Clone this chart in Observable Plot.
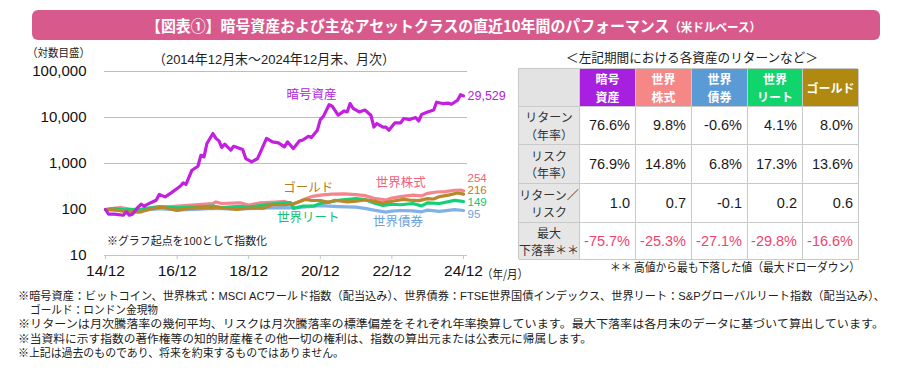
<!DOCTYPE html>
<html><head><meta charset="utf-8">
<script src="https://cdn.jsdelivr.net/npm/d3@7"></script>
<script src="https://cdn.jsdelivr.net/npm/@observablehq/plot@0.6"></script>
<style>
body{margin:0;background:#fff;}
#wrap{position:relative;width:900px;height:370px;overflow:hidden;font-family:"Liberation Sans","Noto Sans CJK JP",sans-serif;color:#222;}
.t{position:absolute;white-space:nowrap;transform-origin:left center;}
.cell{position:absolute;box-sizing:border-box;display:flex;align-items:center;border-right:1px solid #c9c9c9;border-bottom:1px solid #c9c9c9;}
</style></head><body><div id="wrap"></div>
<script>
// ---------- data ----------
const seriesNames = ["暗号資産","世界株式","世界債券","世界リート","ゴールド"];
const crypto = [["2014-12",100],["2015-01",79],["2015-03",79],["2015-06",75],["2015-07",89],["2015-08",75],["2015-09",79],["2015-11",114],["2015-12",130],["2016-01",118],["2016-03",139],["2016-05",159],["2016-06",212],["2016-08",188],["2016-10",230],["2016-12",286],["2017-01",320],["2017-02",379],["2017-03",350],["2017-05",714],["2017-07",873],["2017-08",1510],["2017-09",1390],["2017-10",2720],["2017-12",4480],["2018-01",3520],["2018-02",3100],["2018-03",2230],["2018-04",2630],["2018-06",1950],["2018-07",2360],["2018-10",2010],["2018-11",1280],["2019-01",1080],["2019-03",1280],["2019-04",1790],["2019-06",3520],["2019-08",2960],["2019-10",2800],["2019-12",2300],["2020-01",2960],["2020-03",2110],["2020-05",3100],["2020-06",3200],["2020-08",3900],["2020-09",3660],["2020-11",5300],["2020-12",9000],["2021-01",10600],["2021-03",19000],["2021-04",17600],["2021-06",11200],["2021-08",13900],["2021-09",13200],["2021-10",20100],["2021-11",15700],["2022-01",13200],["2022-03",14500],["2022-05",11200],["2022-06",6200],["2022-07",7400],["2022-09",6200],["2022-10",6200],["2022-11",5300],["2023-01",7650],["2023-03",7650],["2023-04",9500],["2023-06",9000],["2023-08",10000],["2023-09",8400],["2023-10",11700],["2023-12",13200],["2024-02",14500],["2024-03",21500],["2024-05",20100],["2024-07",20500],["2024-08",19400],["2024-10",23700],["2024-11",31300],["2024-12",29529]];
const equity = [["2014-12",100],["2015-05",110],["2015-09",100],["2016-01",98],["2016-06",110],["2016-12",118],["2017-06",126],["2017-12",135],["2018-01",146],["2018-03",135],["2018-09",140],["2018-12",125],["2019-04",139],["2019-09",145],["2019-12",150],["2020-03",130],["2020-06",160],["2020-09",190],["2020-12",205],["2021-04",215],["2021-08",218],["2021-12",210],["2022-03",200],["2022-06",175],["2022-09",165],["2022-10",160],["2022-12",178],["2023-03",190],["2023-07",205],["2023-10",198],["2023-12",225],["2024-03",240],["2024-06",245],["2024-09",262],["2024-11",265],["2024-12",254]];
const bonds = [["2014-12",100],["2015-06",96],["2015-12",96],["2016-06",104],["2016-12",98],["2017-06",101],["2017-12",105],["2018-06",103],["2018-12",104],["2019-06",109],["2019-12",110],["2020-03",109],["2020-06",113],["2020-12",121],["2021-06",116],["2021-12",113],["2022-03",106],["2022-06",97],["2022-10",88],["2022-12",92],["2023-03",95],["2023-07",93],["2023-10",89],["2023-12",97],["2024-04",91],["2024-09",99],["2024-12",95]];
const reit = [["2014-12",100],["2015-03",106],["2015-06",98],["2015-12",102],["2016-06",115],["2016-12",108],["2017-06",113],["2017-12",118],["2018-03",110],["2018-09",117],["2018-12",112],["2019-06",128],["2019-12",140],["2020-02",142],["2020-03",106],["2020-06",118],["2020-10",120],["2020-12",135],["2021-06",158],["2021-12",172],["2022-03",165],["2022-06",138],["2022-09",122],["2022-12",130],["2023-03",127],["2023-07",135],["2023-10",120],["2023-12",140],["2024-04",135],["2024-09",158],["2024-11",152],["2024-12",149]];
const gold = [["2014-12",100],["2015-03",98],["2015-07",90],["2015-11",88],["2015-12",89],["2016-03",103],["2016-07",113],["2016-12",96],["2017-04",106],["2017-08",110],["2017-12",108],["2018-01",112],["2018-08",100],["2018-12",107],["2019-05",107],["2019-08",127],["2019-12",127],["2020-03",133],["2020-07",165],["2020-09",157],["2020-12",157],["2021-03",143],["2021-05",159],["2021-09",146],["2021-12",151],["2022-03",162],["2022-06",152],["2022-09",138],["2022-12",151],["2023-04",166],["2023-06",160],["2023-09",156],["2023-12",172],["2024-02",169],["2024-04",191],["2024-07",205],["2024-10",228],["2024-12",216]];
const xTickLabels = ["2014-12","2016-12","2018-12","2020-12","2022-12","2024-12"];
const yTickValues = [10,100,1000,10000,100000];

const headerLabels = [["暗号","資産"],["世界","株式"],["世界","債券"],["世界","リート"],["ゴールド"]];
const rowLabels = [["リターン","（年率）"],["リスク","（年率）"],["リターン／","リスク"],["最大","下落率＊＊"]];
const returnsPct = [76.6, 9.8, -0.6, 4.1, 8.0];
const riskPct = [76.9, 14.8, 6.8, 17.3, 13.6];
const returnRisk = [1.0, 0.7, -0.1, 0.2, 0.6];
const maxDrawdownPct = [-75.7, -25.3, -27.1, -29.8, -16.6];

// ---------- styles ----------
const lineColors = ["#c21fe0","#f4848d","#80b1e7","#12cf7a","#b8882a"];
const labelColors = ["#b520dc","#f2607a","#6c9fdc","#14c273","#b0801e"];
const headColors = ["#a720e0","#f58787","#5b9bd5","#12d46c","#b08a10"];

const parse = d3.utcParse("%Y-%m");
const all = [crypto, equity, bonds, reit, gold];
const rows = [];
all.forEach((s, i) => s.forEach(([d, v]) => rows.push({name: seriesNames[i], date: parse(d), value: v})));

const wrap = document.getElementById("wrap");
const fits = [];
function txt(s, x, yc, fs, o = {}) {
  const e = document.createElement("div");
  e.className = "t";
  e.textContent = s;
  e.style.fontSize = fs + "px";
  e.style.lineHeight = fs + "px";
  e.style.top = (yc - fs / 2) + "px";
  e.style.left = x + "px";
  if (o.color) e.style.color = o.color;
  if (o.weight) e.style.fontWeight = o.weight;
  if (o.family) e.style.fontFamily = o.family;
  wrap.appendChild(e);
  fits.push({e, x, w: o.w, anchor: o.anchor || "start"});
  return e;
}
const jp = '"Noto Sans CJK JP",sans-serif';

// title bar
const bar = document.createElement("div");
Object.assign(bar.style, {position:"absolute", left:"32px", top:"10px", width:"848px", height:"30px", background:"#d85a8c", borderRadius:"6px"});
wrap.appendChild(bar);
const title = document.createElement("div");
title.className = "t";
title.innerHTML = '【図表①】暗号資産および主なアセットクラスの直近10年間のパフォーマンス<span style="font-size:12px">（米ドルベース）</span>';
Object.assign(title.style, {fontFamily: jp, fontWeight: "bold", color: "#fff", fontSize: "15.5px", lineHeight: "16px", top: "17px", left: "146px"});
wrap.appendChild(title);
fits.push({e: title, x: 146, w: 615, anchor: "start"});

// chart texts
txt("（対数目盛）", 27, 53, 11.5, {family: jp, w: 63});
txt("（2014年12月末～2024年12月末、月次）", 153, 60, 13.5, {w: 242});
txt("※グラフ起点を100として指数化", 107, 242, 11.5, {w: 160});
txt("（年/月）", 482, 274, 12, {family: jp, w: 46});

// ---------- Plot chart ----------
const W = 520, H = 230, top0 = 60;
const labelSpots = [
  {name:"暗号資産", date: parse("2020-09"), value: 30500},
  {name:"世界株式", date: parse("2023-03"), value: 373},
  {name:"世界債券", date: parse("2023-02"), value: 53},
  {name:"世界リート", date: parse("2020-08"), value: 64.7},
  {name:"ゴールド", date: parse("2020-08"), value: 290}
];
const endDy = [0, -12.2, 4.2, 1.2, -3.4];
const drawOrder = [1, 2, 3, 4, 0];
const chart = Plot.plot({
  width: W, height: H,
  marginLeft: 105, marginRight: 57, marginTop: 11, marginBottom: 35,
  style: {fontFamily: '"Liberation Sans","Noto Sans CJK JP",sans-serif', color: "#222", background: "transparent"},
  x: {type: "utc", domain: [parse("2014-12"), parse("2024-12")], axis: null, label: null},
  y: {type: "log", domain: [10, 100000], axis: null, label: null},
  marks: [
    Plot.ruleY(yTickValues.slice(2), {stroke: "#bdbdbd", strokeWidth: 1.2, insetLeft: -1, insetRight: -4}),
    Plot.ruleY([10], {stroke: "#c4c4c4", strokeWidth: 1.2, insetLeft: -1, insetRight: -4}),
    Plot.axisY({ticks: yTickValues, tickFormat: d3.format(","), tickSize: 0, tickPadding: 19, fontSize: 15, fill: "#111", label: null}),
    Plot.axisX({ticks: xTickLabels.map(parse), tickFormat: d3.utcFormat("%y/%m"), tickSize: 4, tickPadding: 5, fontSize: 15.5, fill: "#111", stroke: "#c4c4c4", label: null}),
    ...drawOrder.map(i => Plot.line(rows.filter(r => r.name === seriesNames[i]), {x: "date", y: "value", stroke: lineColors[i], strokeWidth: 3.2, strokeLinejoin: "round", strokeLinecap: "round"})),
    ...labelSpots.map(l => Plot.text([l], {x: "date", y: "value", text: "name", fill: labelColors[seriesNames.indexOf(l.name)], fontSize: 12.5, fontFamily: jp})),
    ...seriesNames.map((n, i) => {
      const last = all[i][all[i].length - 1];
      return Plot.text([{date: parse(last[0]), value: last[1]}], {x: "date", y: "value", text: d => d3.format(",")(d.value), textAnchor: "start", dx: 4, dy: endDy[i], fill: labelColors[i], fontSize: i === 0 ? 12.5 : 11.5});
    })
  ]
});
chart.style.position = "absolute";
chart.style.left = "0px";
chart.style.top = top0 + "px";
wrap.appendChild(chart);

// ---------- table ----------
txt("＜左記期間における各資産のリターンなど＞", 566, 57, 12.6, {family: jp, w: 252});
const colX = [518, 579, 635, 691, 747, 802, 858];
const rowY = [68, 106, 144, 183, 222, 259];
const tbl = document.createElement("div");
Object.assign(tbl.style, {position: "absolute", left: colX[0] + "px", top: rowY[0] + "px", width: (colX[6] - colX[0]) + "px", height: (rowY[5] - rowY[0]) + "px", border: "1px solid #c9c9c9", boxSizing: "border-box"});
wrap.appendChild(tbl);
function cell(ci, ri, bg, html, o = {}) {
  const c = document.createElement("div");
  c.className = "cell";
  Object.assign(c.style, {left: (colX[ci] - colX[0]) + "px", top: (rowY[ri] - rowY[0]) + "px", width: (colX[ci + 1] - colX[ci]) + "px", height: (rowY[ri + 1] - rowY[ri]) + "px", background: bg, justifyContent: o.justify || "center", textAlign: o.align || "center", padding: o.pad || "0", color: o.color || "#222", fontSize: (o.fs || 13) + "px", lineHeight: (o.lh || 1.25), fontWeight: o.weight || "normal", fontFamily: o.family || "inherit"});
  c.innerHTML = html;
  tbl.appendChild(c);
}
cell(0, 0, "#e3e3e3", "");
headerLabels.forEach((h, i) => cell(i + 1, 0, headColors[i], h.join("<br>"), {color: "#fff", weight: "bold", fs: 12, family: jp, lh: 1.45}));
rowLabels.forEach((r, i) => cell(0, i + 1, "#e6e6e6", r.join("<br>"), {fs: 12, family: jp, lh: 1.45, color: "#333"}));
const valueRows = [returnsPct.map(v => v.toFixed(1) + "%"), riskPct.map(v => v.toFixed(1) + "%"), returnRisk.map(v => v.toFixed(1)), maxDrawdownPct.map(v => v.toFixed(1) + "%")];
valueRows.forEach((vals, ri) => vals.forEach((v, ci) => cell(ci + 1, ri + 1, "#fff", v, {justify: "flex-end", pad: "0 5px 0 0", fs: 14.5, color: ri === 3 ? "#f0436c" : "#1a1a1a"})));
txt("＊＊ 高値から最も下落した値（最大ドローダウン）", 610, 267, 12, {family: jp, w: 250});

// ---------- footnotes ----------
const notes = [
  ["※暗号資産：ビットコイン、世界株式：MSCI ACワールド指数（配当込み）、世界債券：FTSE世界国債インデックス、世界リート：S&Pグローバルリート指数（配当込み）、", 18, 297, 867],
  ["ゴールド：ロンドン金現物", 30, 311, 128],
  ["※リターンは月次騰落率の幾何平均、リスクは月次騰落率の標準偏差をそれぞれ年率換算しています。最大下落率は各月末のデータに基づいて算出しています。", 18, 325, 866],
  ["※当資料に示す指数の著作権等の知的財産権その他一切の権利は、指数の算出元または公表元に帰属します。", 18, 340, 574],
  ["※上記は過去のものであり、将来を約束するものではありません。", 18, 354, 326]
];
notes.forEach(([s, x, y, w]) => txt(s, x, y, 11.5, {w, color: "#222"}));

function doFit() {
  fits.forEach(f => {
    if (!f.w) return;
    f.e.style.transform = "none";
    const aw = f.e.getBoundingClientRect().width;
    if (aw > 0) f.e.style.transform = "scaleX(" + (f.w / aw) + ")";
  });
}
doFit();
if (document.fonts && document.fonts.ready) document.fonts.ready.then(doFit);
</script></body></html>
